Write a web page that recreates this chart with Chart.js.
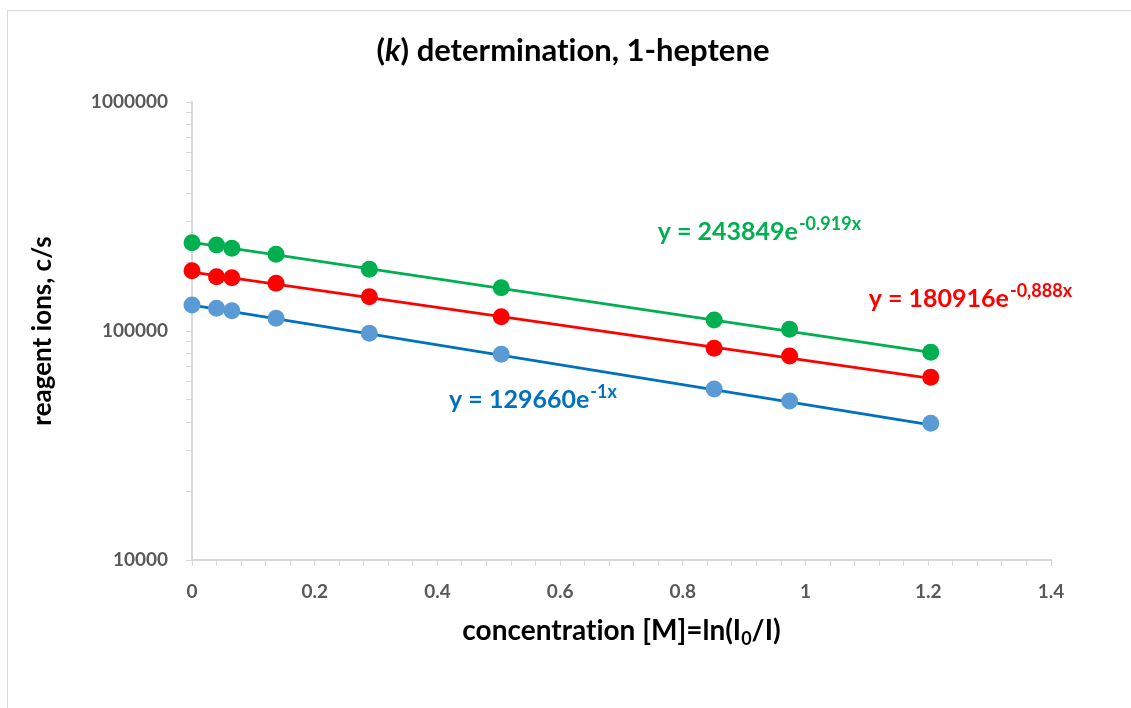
<!DOCTYPE html>
<html>
<head>
<meta charset="utf-8">
<title>(k) determination, 1-heptene</title>
<script src="https://cdn.jsdelivr.net/npm/chart.js@4"></script>
<style>
  body { margin: 0; background: #fff; }
  #wrap { width: 1131px; height: 708px; position: relative; }
</style>
</head>
<body>
<div id="wrap"><canvas id="kChart"></canvas></div>
<script>
// values
const concentration = [0, 0.040, 0.065, 0.137, 0.289, 0.504, 0.851, 0.974, 1.204];
const greenIons = [243000, 237400, 229700, 216200, 185950, 154600, 111700, 101700, 80700];
const redIons = [183400, 172650, 170900, 161550, 141200, 115470, 84050, 77780, 62800];
const blueIons = [129900, 125700, 122650, 113650, 97720, 79100, 55800, 49430, 39530];

// exponential trendlines as printed on the chart: y = a * e^(k x)
const fitA = [243849, 180916, 129660];
const fitK = [-0.919, -0.888, -1];
const eqMain = ['y = 243849e', 'y = 180916e', 'y = 129660e'];
const eqSup = ['-0.919x', '-0,888x', '-1x'];

const xTickLabels = [0, 0.2, 0.4, 0.6, 0.8, 1, 1.2, 1.4];
const yTickLabels = [10000, 100000, 1000000];

const FONT = 'Lato, "Open Sans", sans-serif';
const seriesColors = ['#00B050', '#FF0000', '#5B9BD5'];
const lineColors = ['#00B050', '#FF0000', '#0070C0'];
const eqColors = ['#00B050', '#FF0000', '#0070C0'];
// where each equation sits, in data units (left edge, baseline)
const eqPos = [{ x: 0.759, y: 249500 }, { x: 1.103, y: 127300 }, { x: 0.419, y: 46150 }];

// Lato turns "ti" into a ligature on canvas, a zero-width non-joiner stops it
const noLig = s => s.replace(/ti/g, 't\u200Ci');

const pointSets = [greenIons, redIons, blueIons].map((vals, i) => ({
  data: concentration.map((c, j) => ({ x: c, y: vals[j] })),
  backgroundColor: seriesColors[i],
  borderWidth: 0,
  pointRadius: 8.5,
  pointHoverRadius: 8.5,
  showLine: false,
  clip: false,
  order: 0
}));

const x0 = concentration[0];
const x1 = concentration[concentration.length - 1];
const trendSets = fitA.map((a, i) => ({
  data: [{ x: x0, y: a * Math.exp(fitK[i] * x0) }, { x: x1, y: a * Math.exp(fitK[i] * x1) }],
  borderColor: lineColors[i],
  borderWidth: 2.75,
  pointRadius: 0,
  showLine: true,
  order: 1
}));

const textPlugin = {
  id: 'textPlugin',
  beforeDraw(chart) {
    const ctx = chart.ctx;
    ctx.save();
    ctx.strokeStyle = '#D9D9D9';
    ctx.lineWidth = 1;
    ctx.strokeRect(7.5, 10.5, chart.width + 20, chart.height + 20);
    ctx.restore();
  },
  afterDraw(chart) {
    const ctx = chart.ctx;
    const area = chart.chartArea;
    const xs = chart.scales.x, ys = chart.scales.y;
    ctx.save();
    ctx.textBaseline = 'alphabetic';

    // title with italic k
    const parts = [['(', 'bold 31px ' + FONT], ['k', 'italic bold 31px ' + FONT], [noLig(') determination, 1-heptene'), 'bold 31px ' + FONT]];
    let total = 0;
    parts.forEach(p => { ctx.font = p[1]; total += ctx.measureText(p[0]).width; });
    let tx = 573 - total / 2;
    ctx.fillStyle = '#000';
    parts.forEach(p => { ctx.font = p[1]; ctx.fillText(p[0], tx, 61); tx += ctx.measureText(p[0]).width; });

    // x axis title with subscript 0
    const xt = [[noLig('concentration [M]=ln(I'), 0], ['0', 1], ['/I)', 0]];
    total = 0;
    xt.forEach(p => { ctx.font = (p[1] ? 'bold 18px ' : 'bold 28px ') + FONT; total += ctx.measureText(p[0]).width; });
    tx = (area.left + area.right) / 2 - total / 2;
    xt.forEach(p => {
      ctx.font = (p[1] ? 'bold 18px ' : 'bold 28px ') + FONT;
      ctx.fillText(p[0], tx, p[1] ? 645 : 640);
      tx += ctx.measureText(p[0]).width;
    });

    // trendline equations
    eqMain.forEach((t, i) => {
      const px = xs.getPixelForValue(eqPos[i].x);
      const py = ys.getPixelForValue(eqPos[i].y);
      ctx.fillStyle = eqColors[i];
      ctx.font = 'bold 25px ' + FONT;
      ctx.fillText(t, px, py);
      const w = ctx.measureText(t).width;
      ctx.font = 'bold 18px ' + FONT;
      ctx.fillText(eqSup[i], px + w + 1, py - 10);
    });
    ctx.restore();
  }
};

const ctx = document.getElementById('kChart').getContext('2d');
const kChart = new Chart(ctx, {
  type: 'scatter',
  data: { datasets: pointSets.concat(trendSets) },
  options: {
    responsive: true,
    maintainAspectRatio: false,
    animation: false,
    layout: { padding: { top: 102, right: 80, bottom: 0, left: 0 } },
    plugins: { legend: { display: false }, title: { display: false }, tooltip: { enabled: false } },
    scales: {
      x: {
        type: 'linear',
        min: 0,
        max: 1.4,
        afterFit: s => { s.height = 148; },
        afterBuildTicks: s => {
          const t = [];
          for (let i = 0; i <= 35; i++) t.push({ value: Math.round(i * 4) / 100 });
          s.ticks = t;
        },
        ticks: {
          autoSkip: false,
          maxRotation: 0,
          padding: 14,
          color: '#595959',
          font: { family: FONT, size: 19, weight: 'bold' },
          callback: v => {
            const hit = xTickLabels.find(l => Math.abs(l - v) < 1e-6);
            return hit === undefined ? '' : String(hit);
          }
        },
        grid: { drawOnChartArea: false, drawTicks: true, tickLength: 6, color: '#D9D9D9' },
        border: { display: true, color: '#D9D9D9', width: 2 }
      },
      y: {
        type: 'logarithmic',
        min: yTickLabels[0],
        max: yTickLabels[yTickLabels.length - 1],
        afterFit: s => { s.width = 192; },
        afterBuildTicks: s => {
          const t = [];
          for (let d = 0; d < yTickLabels.length - 1; d++) {
            for (let m = 1; m <= 9; m++) t.push({ value: yTickLabels[d] * m });
          }
          t.push({ value: yTickLabels[yTickLabels.length - 1] });
          s.ticks = t;
        },
        ticks: {
          autoSkip: false,
          padding: 18,
          color: '#595959',
          font: { family: FONT, size: 19, weight: 'bold' },
          callback: v => yTickLabels.includes(v) ? String(v) : ''
        },
        grid: { drawOnChartArea: false, drawTicks: true, tickLength: 6, color: '#D9D9D9' },
        border: { display: true, color: '#D9D9D9', width: 2 },
        title: {
          display: true,
          text: 'reagent ions, c/s',
          color: '#000',
          font: { family: FONT, size: 26, weight: 'bold' },
          padding: { top: 27, bottom: 0 }
        }
      }
    }
  },
  plugins: [textPlugin]
});
</script>
</body>
</html>
